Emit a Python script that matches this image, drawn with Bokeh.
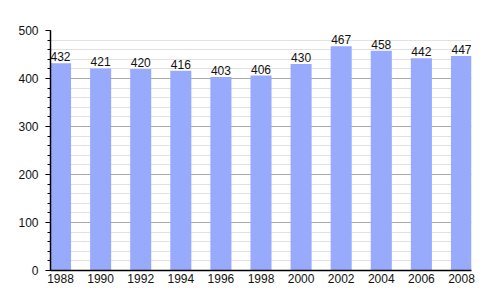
from bokeh.plotting import figure
from bokeh.models import ColumnDataSource, FixedTicker, SingleIntervalTicker, Range1d, LabelSet
from bokeh.core.properties import value
from bokeh.embed import file_html
from bokeh.resources import INLINE

years = [1988, 1990, 1992, 1994, 1996, 1998, 2000, 2002, 2004, 2006, 2008]
population = [432, 421, 420, 416, 403, 406, 430, 467, 458, 442, 447]
labels = [str(v) for v in population]

src = ColumnDataSource(dict(x=years, top=population, lab=labels))

FONT = "Liberation Sans"

p = figure(width=500, height=300, output_backend="svg", toolbar_location=None,
           x_range=Range1d(1987.5, 2008.5), y_range=Range1d(0, 500),
           min_border_left=50, min_border_right=29, min_border_top=30, min_border_bottom=30)
p.outline_line_color = None
p.background_fill_color = "white"

p.vbar(x="x", top="top", width=1.05, source=src, fill_color="#97aafc", line_color=None)

lbl = LabelSet(x="x", y="top", text="lab", source=src, text_align="center",
               text_baseline="bottom", y_offset=2, text_font=value(FONT),
               text_font_size=value("12px"), text_color="#111111")
p.add_layout(lbl)

p.xgrid.visible = False
p.yaxis.ticker = SingleIntervalTicker(interval=100, num_minor_ticks=5)
p.ygrid.grid_line_color = "#aaaaaa"
p.ygrid.minor_grid_line_color = "#e2e2e2"
p.ygrid.level = "underlay"

p.xaxis.ticker = FixedTicker(ticks=years)
p.xaxis.major_tick_line_color = None
p.xaxis.minor_tick_line_color = None
p.xaxis.axis_line_color = "black"
p.xaxis.axis_line_width = 1.5
p.xaxis.major_tick_out = 0
p.xaxis.major_label_standoff = 3

p.yaxis.axis_line_color = "black"
p.yaxis.axis_line_width = 1.5
p.yaxis.major_tick_out = 5
p.yaxis.major_tick_in = 0
p.yaxis.minor_tick_out = 3
p.yaxis.minor_tick_in = 0
p.yaxis.major_label_standoff = 7

for ax in (p.xaxis, p.yaxis):
    ax.major_label_text_font = FONT
    ax.major_label_text_font_size = "12px"
    ax.major_label_text_color = "#111111"

open("out.html", "w").write(file_html(p, INLINE))
